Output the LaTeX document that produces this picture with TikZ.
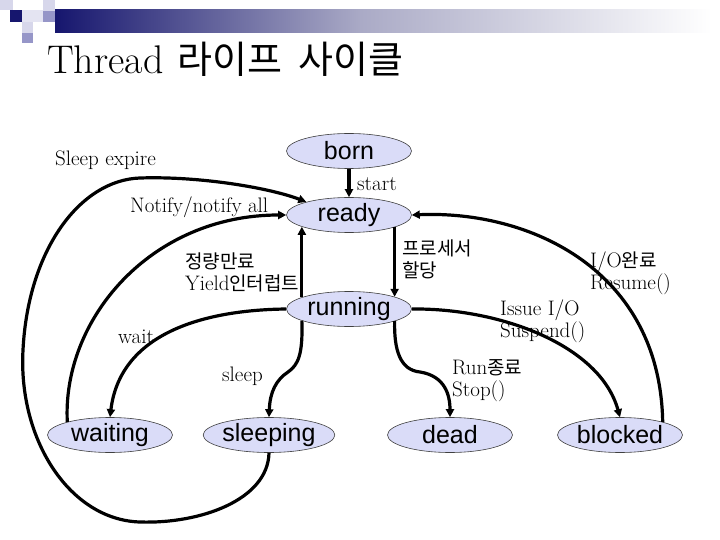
\documentclass[tikz,border=0pt]{standalone}
\usepackage{fontspec}
\newfontfamily\kr{Noto Sans CJK KR}
\newfontfamily\nodefont{Liberation Sans}
\usetikzlibrary{shapes.geometric,arrows.meta}
\definecolor{lav}{RGB}{218,220,248}
\definecolor{navy}{RGB}{22,22,110}
\definecolor{barmid}{RGB}{170,170,198}
\definecolor{sqlight}{RGB}{215,215,235}
\definecolor{sqpale}{RGB}{228,228,242}
\definecolor{sqmid}{RGB}{150,150,200}
\newcommand{\K}[1]{{\kr\fontsize{19}{22}\selectfont #1}}
\begin{document}
\begin{tikzpicture}[x=1pt,y=-1pt,
 state/.style={ellipse,draw=black!75,line width=0.6pt,fill=lav,minimum width=125pt,minimum height=35pt,inner sep=0pt,font=\nodefont\fontsize{25}{25}\selectfont},
 edge/.style={line width=3.2pt,-{Triangle[length=8pt,width=8pt]}},
 lbl/.style={inner sep=0pt,font=\fontsize{21}{22}\selectfont,align=left},
]
\useasboundingbox (0,0) rectangle (720,540);
\fill[white] (0,0) rectangle (720,540);
% title decoration
\fill[sqlight] (0,0) rectangle (13,10);
\fill[sqlight] (43,0) rectangle (55,11);
\fill[navy] (10,10) rectangle (22,22);
\fill[sqpale] (22,10) rectangle (43,22);
\fill[sqmid] (43,11) rectangle (55,22);
\fill[sqlight] (22,22) rectangle (33,33);
\fill[sqmid] (22,33) rectangle (33,43);
\shade[left color=navy,right color=barmid] (55,10) rectangle (360.5,33);
\shade[left color=barmid,right color=white] (360,10) rectangle (712,33);
\node[anchor=base west,inner sep=0pt] (title) at (47,74) {\fontsize{40}{44}\selectfont Thread\hspace{14pt}{\kr\fontsize{38}{44}\selectfont 라이프\hspace{8pt} 사이클}};
% states
\node[state] (born) at (349,151) {born};
\node[state] (ready) at (349,215) {ready};
\node[state] (running) at (349,309) {running};
\node[state] (waiting) at (110,435) {waiting};
\node[state] (sleeping) at (269,435) {sleeping};
\node[state] (dead) at (450,435) {dead};
\node[state] (blocked) at (620,435) {blocked};
% labels
\node[lbl,anchor=west] (lse) at (55,160) {Sleep expire};
\node[lbl,anchor=west] (lst) at (357,184) {start};
\node[lbl,anchor=west] (lno) at (130,207) {Notify/notify all};
\node[lbl,anchor=north west] (lpr) at (402,240) {\K{프로세서}\\\K{할당}};
\node[lbl,anchor=north west] (lyi) at (185,253) {\K{정량만료}\\Yield\K{인터럽트}};
\node[lbl,anchor=north west] (lio) at (590,252) {I/O\K{완료}\\Resume()};
\node[lbl,anchor=north west] (lis) at (500,300) {Issue I/O\\Suspend()};
\node[lbl,anchor=west] (lwa) at (118,337) {wait};
\node[lbl,anchor=west] (lsl) at (222,376) {sleep};
\node[lbl,anchor=north west] (lru) at (452,359) {Run\K{종료}\\Stop()};
% edges
\draw[edge] (born) -- (ready);
\draw[edge] (ready.-15) -- (running.15);
\draw[edge] (running.166) -- (ready.194);
\draw[edge] (waiting.163) .. controls (62,320) and (150,215) .. (ready.west);
\draw[edge] (sleeping.south) .. controls (268,500) and (200,524) .. (140,522)
  .. controls (70,520) and (18,440) .. (23,350)
  .. controls (28,250) and (80,180) .. (140,178)
  .. controls (200,176) and (270,188) .. (ready.163);
\draw[edge] (running.west) .. controls (200,310) and (120,335) .. (waiting.north);
\draw[edge] (running.194) .. controls (303,355) and (298,365) .. (288,372)
  .. controls (276,380) and (270,392) .. (sleeping.north);
\draw[edge] (running.-15) .. controls (394,350) and (400,370) .. (420,372)
  .. controls (445,376) and (450,395) .. (dead.north);
\draw[edge] (running.east) .. controls (500,308) and (600,345) .. (blocked.north);
\draw[edge] (blocked.17) .. controls (660,270) and (530,210) .. (ready.east);
\end{tikzpicture}
\end{document}
